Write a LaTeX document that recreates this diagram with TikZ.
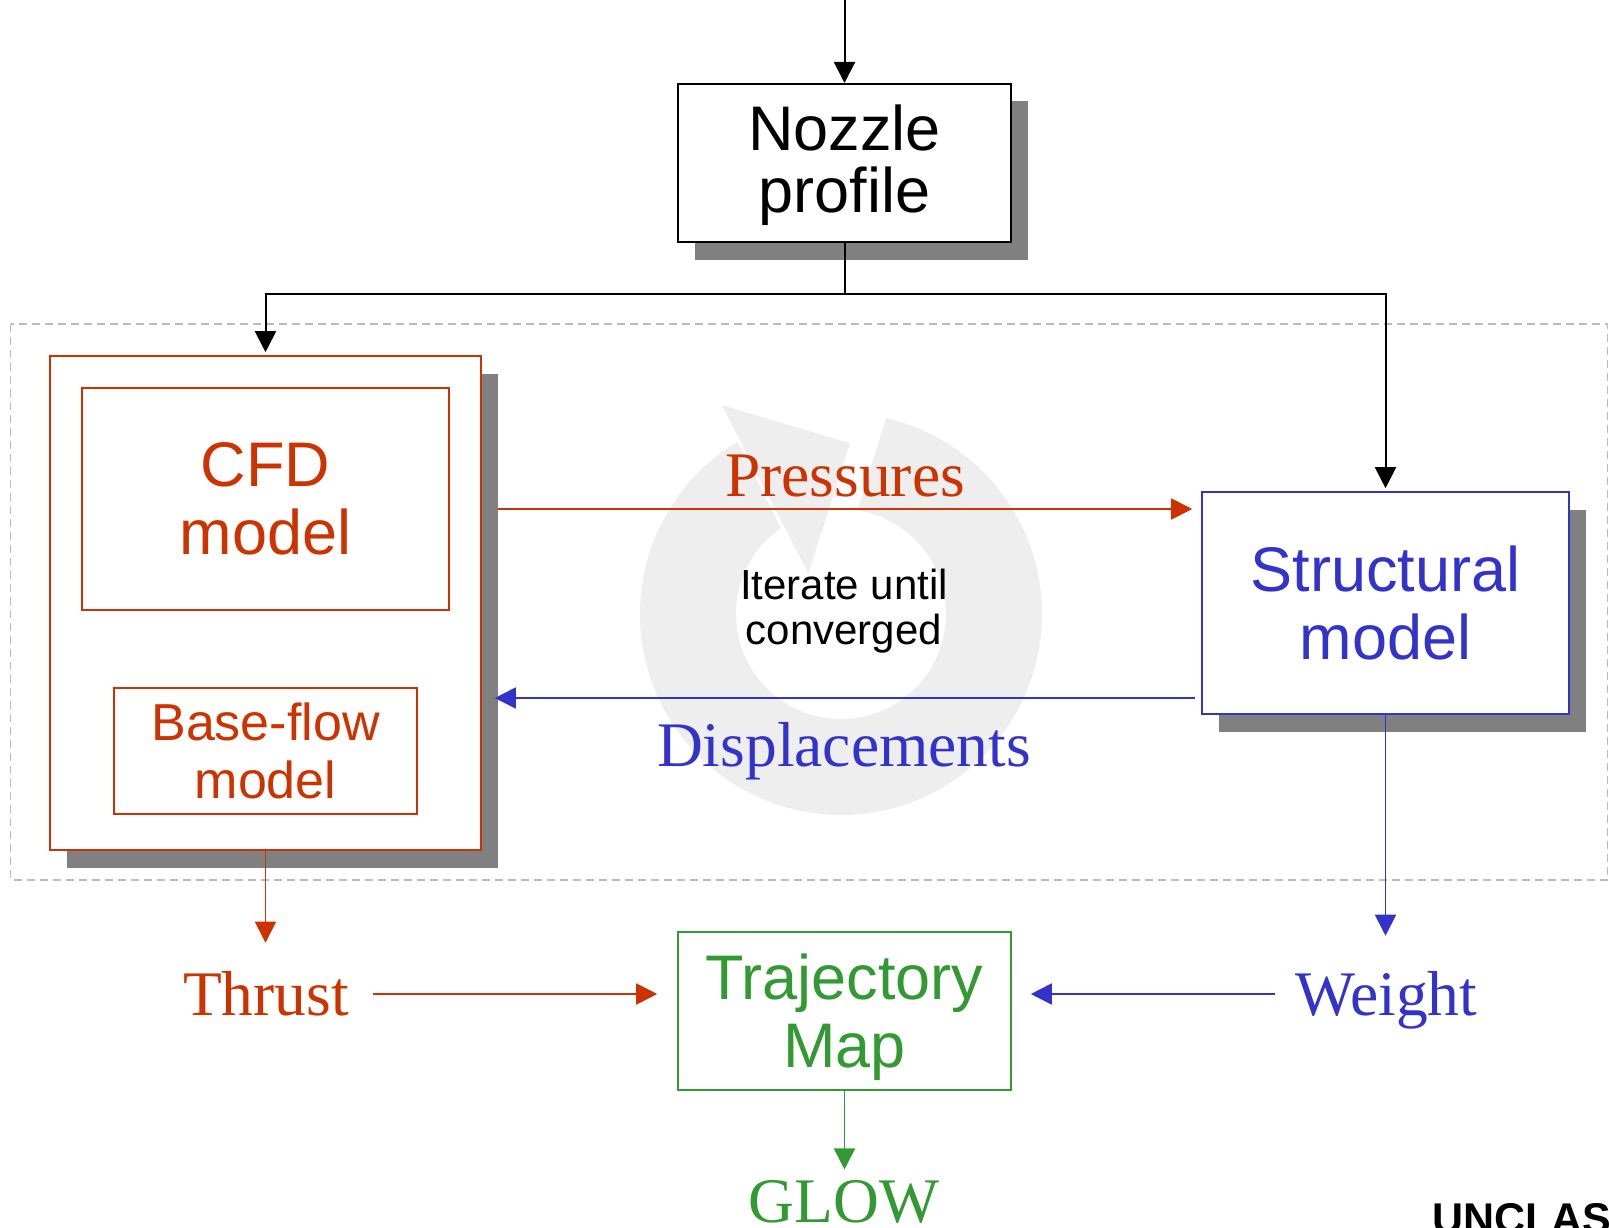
\documentclass[tikz,border=0pt]{standalone}
\usepackage{fontspec}
\newfontfamily\sansf{Liberation Sans}
\newfontfamily\serf{Liberation Serif}
\usetikzlibrary{arrows.meta,shadows}
\definecolor{cfdred}{RGB}{204,51,0}
\definecolor{strblue}{RGB}{51,51,204}
\definecolor{trjgreen}{RGB}{51,153,51}
\definecolor{shadowgray}{RGB}{128,128,128}
\definecolor{dashgray}{RGB}{187,187,187}
\definecolor{ringgray}{RGB}{238,238,238}
\tikzset{
  box/.style={draw, fill=white, line width=1.6pt, inner sep=0pt, align=center},
  shad/.style={drop shadow={shadow xshift=16.5pt, shadow yshift=-17.5pt, fill=shadowgray, opacity=1}},
  lbl/.style={inner sep=0pt, anchor=base, font=\serf\fontsize{63.5}{70}\selectfont},
  arr/.style={-{Triangle[length=21pt,width=21pt]}, line width=1.8pt},
}
\begin{document}
\begin{tikzpicture}[x=1pt,y=-1pt]
\useasboundingbox (0,0) rectangle (1609,1228);

% circular iterate arrow (background)
\begin{scope}[shift={(841,614)},x=1pt,y=1pt]
  \fill[ringgray] (77:201pt) arc[start angle=77, end angle=-239, radius=201pt]
     -- (-235:105pt) arc[start angle=-235, end angle=81, radius=105pt] -- cycle;
  \fill[ringgray] (-119.3,209) -- (9,170.7) -- (-32.7,40.7) -- cycle;
\end{scope}

% dashed frame
\draw[dashgray, line width=1.5pt, dash pattern=on 8pt off 5pt] (10.7,324) rectangle (1607.7,880);

% boxes
\node[box, shad, line width=2pt, minimum width=333pt, minimum height=158pt, text depth=9.4pt,
      font=\sansf\fontsize{63}{62}\selectfont] (nozzle) at (844.5,163) {Nozzle\\profile};
\node[box, shad, draw=cfdred, minimum width=431pt, minimum height=494pt] (cfd) at (265.5,603) {};
\node[box, draw=cfdred, text=cfdred, minimum width=367pt, minimum height=222pt,
      font=\sansf\fontsize{63}{68.5}\selectfont] (cfdin) at (265.5,499) {CFD\\model};
\node[box, draw=cfdred, text=cfdred, minimum width=303pt, minimum height=126pt,
      font=\sansf\fontsize{52}{58.4}\selectfont] (base) at (265.5,751) {Base-flow\\model};
\node[box, shad, draw=strblue, text=strblue, minimum width=367pt, minimum height=222pt,
      font=\sansf\fontsize{63}{67.6}\selectfont] (struct) at (1385.5,603) {Structural\\model};
\node[box, draw=trjgreen, text=trjgreen, minimum width=333pt, minimum height=158pt, text depth=1pt,
      font=\sansf\fontsize{63}{67.7}\selectfont] (traj) at (844.5,1011) {Trajectory\\Map};

% labels
\node[lbl, text=cfdred] (pres) at (845,496.7) {Pressures};
\node[lbl, text=strblue] (disp) at (844,766.7) {Displacements};
\node[lbl, text=cfdred] (thrust) at (266,1015) {Thrust};
\node[lbl, text=strblue] (weight) at (1386.4,1015) {Weight};
\node[lbl, text=trjgreen] (glow) at (844,1222.7) {GLOW};
\node[inner sep=0pt, align=center, font=\sansf\fontsize{42}{45}\selectfont] (iter) at (844,611.6) {Iterate until\\converged};
\node[inner sep=0pt, anchor=base west, font=\sansf\bfseries\fontsize{43}{45}\selectfont] (uncl) at (1432,1233) {UNCLAS};

% connectors
\coordinate (topin) at (844.5,0);
\draw[arr, line width=2pt] (topin) -- (nozzle.north);
\draw[line width=2pt] (nozzle.south) -- (nozzle.south |- 0,294) coordinate (junc);
\draw[arr, line width=2pt, shorten >=3pt] (junc) -| (cfd.north);
\draw[arr, line width=2pt, shorten >=3pt] (junc) -| (struct.north);

\draw[arr, color=cfdred, shorten <=16pt, shorten >=9pt] (cfd.east |- 0,509) -- (struct.west |- 0,509);
\draw[arr, color=strblue, shorten <=6pt, shorten >=13pt] (struct.west |- 0,698) -- (cfd.east |- 0,698);

\draw[arr, color=cfdred, shorten >=28pt] (cfd.south) -- (cfd.south |- thrust.north);
\draw[arr, color=cfdred, shorten <=24pt, shorten >=20pt] (thrust.east |- 0,994) -- (traj.west |- 0,994);
\draw[arr, color=strblue, shorten >=35pt] (struct.south) -- (struct.south |- weight.north);
\draw[arr, color=strblue, shorten <=20pt, shorten >=19pt] (weight.west |- 0,994) -- (traj.east |- 0,994);
\draw[arr, color=trjgreen, shorten >=11pt] (traj.south) -- (traj.south |- glow.north);
\end{tikzpicture}
\end{document}
